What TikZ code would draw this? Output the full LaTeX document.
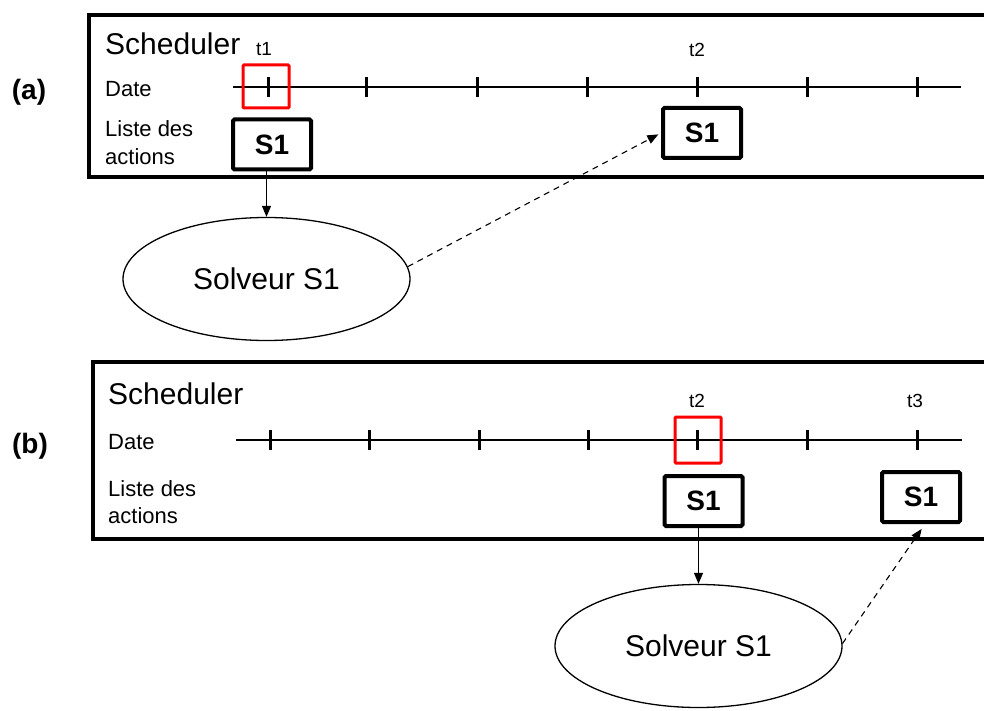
\documentclass[tikz,border=0pt]{standalone}
\usepackage{fontspec}
\setmainfont{Liberation Sans}
\usetikzlibrary{shapes.geometric,arrows.meta,calc}
\tikzset{
  frame/.style={draw, line width=4pt},
  dateline/.style={line width=1.3pt},
  tickmark/.style={line width=3pt},
  redbox/.style={draw=red, line width=3pt, rounded corners=1pt},
  sbox/.style={draw, line width=4pt, rounded corners=1.5pt, minimum width=78pt, minimum height=50pt, inner sep=0pt, font=\fontsize{28}{30}\selectfont\bfseries},
  solveur/.style={ellipse, draw, line width=1.3pt, minimum width=287pt, minimum height=123pt, inner sep=0pt, font=\fontsize{30}{34}\selectfont},
  title/.style={anchor=base west, inner sep=0pt, font=\fontsize{30}{34}\selectfont},
  small/.style={anchor=base west, inner sep=0pt, font=\fontsize{22}{26}\selectfont},
  tlabel/.style={anchor=base, inner sep=0pt, font=\fontsize{19}{22}\selectfont},
  plabel/.style={inner sep=0pt, font=\fontsize{28}{32}\selectfont\bfseries},
  solid arrow/.style={line width=1.2pt, -{Triangle[length=11pt,width=9pt]}},
  dash arrow/.style={line width=1.1pt, dash pattern=on 6pt off 5pt, -{Triangle[length=11pt,width=9pt]}},
}
\begin{document}
\begin{tikzpicture}[x=1pt,y=-1pt]
\useasboundingbox (0,0) rectangle (984,711);

% ---------------- (a) ----------------
\node[plabel] (la) at (29,92) {(a)};
\draw[frame] (1010,15) -- (89,15) -- (89,177) -- (1010,177);
\node[title] (scha) at (105,55) {Scheduler};
\node[small] (datea) at (105,97) {Date};
\node[small] (listea) at (105,137) {Liste des};
\node[small] (actiona) at (105,165) {actions};
\coordinate (a0) at (233,87);
\coordinate (a1) at (961,87);
\draw[dateline] (a0) -- (a1);
\foreach \x in {268,366,477,587,697,807,917}
  \draw[tickmark] (\x,77) -- (\x,97);
\node[redbox, minimum width=46pt, minimum height=43pt] (ra) at (266,86.5) {};
\node[tlabel] (t1a) at (264,56) {t1};
\node[tlabel] (t2a) at (697,57) {t2};
\node[sbox] (sa1) at (272,144.5) {S1};
\node[sbox] (sa2) at (702,133) {S1};
\node[solveur] (ea) at (266.5,279) {Solveur S1};
\draw[solid arrow] (sa1.south -| ea.north) -- (ea.north);
\draw[dash arrow, shorten >=3pt] (ea.5) -- (sa2.west);

% ---------------- (b) ----------------
\node[plabel] (lb) at (30,446) {(b)};
\draw[frame] (1010,362) -- (93,362) -- (93,539) -- (1010,539);
\node[title] (schb) at (108,404) {Scheduler};
\node[small] (dateb) at (108,449) {Date};
\node[small] (listeb) at (108,496) {Liste des};
\node[small] (actionb) at (108,523) {actions};
\coordinate (b0) at (236,440);
\coordinate (b1) at (962,440);
\draw[dateline] (b0) -- (b1);
\foreach \x in {270,369,479,588,697,807,917}
  \draw[tickmark] (\x,430) -- (\x,450);
\node[redbox, minimum width=46pt, minimum height=46pt] (rb) at (698,440) {};
\node[tlabel] (t2b) at (697,407) {t2};
\node[tlabel] (t3b) at (915,407) {t3};
\node[sbox] (sb1) at (703.5,501) {S1};
\node[sbox] (sb2) at (921,497) {S1};
\node[solveur] (eb) at (698.5,646) {Solveur S1};
\draw[solid arrow] (sb1.south -| eb.north) -- (eb.north);
\draw[dash arrow, shorten >=6pt] (eb.1) -- ($(sb2.south)+(4,0)$);
\end{tikzpicture}
\end{document}
